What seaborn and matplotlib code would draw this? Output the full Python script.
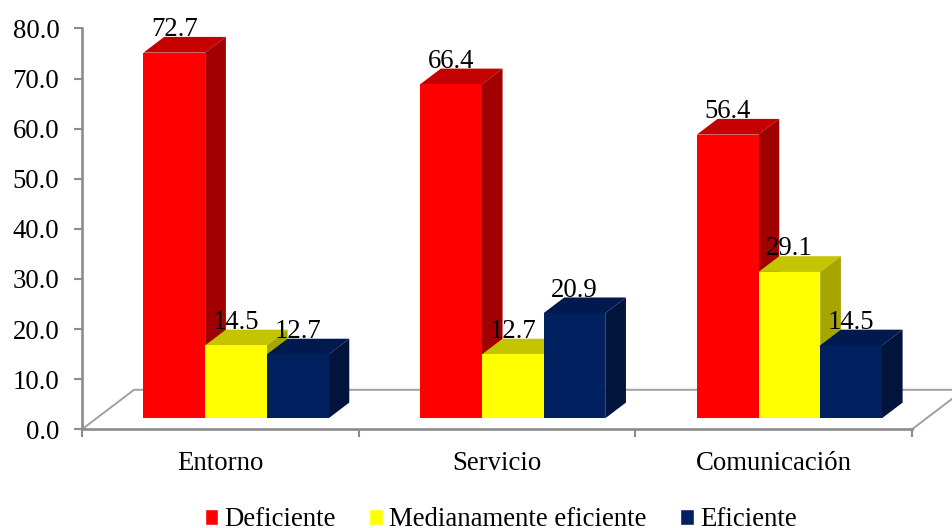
import matplotlib
matplotlib.use('Agg')
import matplotlib.pyplot as plt
from matplotlib.patches import Polygon
from matplotlib.transforms import Affine2D, IdentityTransform
import pandas as pd
import seaborn as sns

categories = ['Entorno', 'Servicio', 'Comunicación']
series_names = ['Deficiente', 'Medianamente eficiente', 'Eficiente']
deficiente = [72.7, 66.4, 56.4]
medianamente = [14.5, 12.7, 29.1]
eficiente = [12.7, 20.9, 14.5]
y_ticks = [0, 10, 20, 30, 40, 50, 60, 70, 80]

front_colors = ['#FF0000', '#FFFF00', '#002060']
top_colors = ['#C40000', '#C4C400', '#001A4F']
side_colors = ['#A00000', '#A6A600', '#00143C']
axis_color = '#8C8C8C'

W, H = 952, 528
DEPTH_X, DEPTH_Y = 20.7, 15.7

sns.set_theme(style='white')
plt.rcParams['font.family'] = ['Liberation Serif', 'DejaVu Serif']
plt.rcParams['text.color'] = 'black'
font_size = 19.3

df = pd.DataFrame({
    'categoria': categories * 3,
    'serie': [series_names[0]] * 3 + [series_names[1]] * 3 + [series_names[2]] * 3,
    'valor': deficiente + medianamente + eficiente,
})

fig = plt.figure(figsize=(W / 100, H / 100), dpi=100)
ax = fig.add_axes([82 / W, (H - 429.3) / H, 830 / W, 400.8 / H])

sns.barplot(data=df, x='categoria', y='valor', hue='serie', order=categories,
            hue_order=series_names, palette=front_colors, saturation=1,
            width=0.669, gap=0, errorbar=None, ax=ax)
ax.set_xlim(-0.5, 2.5)
ax.set_ylim(0, 80)
ax.set_xlabel('')
ax.set_ylabel('')

# ticks on the category borders, labels in the middle
ax.set_xticks([-0.5, 0.5, 1.5, 2.5])
ax.set_xticklabels([])
ax.set_xticks([0, 1, 2], labels=categories, minor=True)
ax.tick_params(axis='x', which='major', bottom=True, length=5.5, width=1.5, color=axis_color)
ax.tick_params(axis='x', which='minor', bottom=True, length=0, pad=15.5, labelsize=font_size, labelcolor='black')
ax.set_yticks(y_ticks)
ax.set_yticklabels([f'{t:.1f}' for t in y_ticks])
ax.tick_params(axis='y', length=5.8, width=1.5, color=axis_color, pad=10.5,
               labelsize=font_size, labelcolor='black', left=True)

sns.despine(ax=ax)
for side in ['left', 'bottom']:
    ax.spines[side].set_color(axis_color)
    ax.spines[side].set_linewidth(1.9)

# chart floor
back_x = 52 / 830
back_y = 39.5 / 400.8
ax.plot([0, back_x, 1 + back_x], [0, back_y, back_y], color='#A0A0A0', lw=1.4,
        transform=ax.transAxes, clip_on=False, zorder=1)
ax.plot([1, 1 + back_x], [0, back_y], color='#A0A0A0', lw=1.4,
        transform=ax.transAxes, clip_on=False, zorder=1)

# fake 3D: front faces shifted into the floor, top and side faces added
bar_tf = Affine2D().scale(1, 1.004) + ax.transData + Affine2D().translate(15.7, 11)
for i, container in enumerate(ax.containers):
    for bar, value in zip(container, container.datavalues):
        bar.set_transform(bar_tf)
        bar.set_zorder(4 + i * 2)
        bar.set_clip_on(False)
        bar.set_edgecolor('none')
        bar.set_linewidth(0)
        x0 = bar.get_x()
        x1 = x0 + bar.get_width()
        (px0, py0), (px1, py1) = bar_tf.transform([(x0, 0), (x1, value)])
        top = [(px0, py1), (px1, py1), (px1 + DEPTH_X, py1 + DEPTH_Y), (px0 + DEPTH_X, py1 + DEPTH_Y)]
        side = [(px1, py0), (px1, py1), (px1 + DEPTH_X, py1 + DEPTH_Y), (px1 + DEPTH_X, py0 + DEPTH_Y)]
        ax.add_patch(Polygon(top, closed=True, facecolor=top_colors[i], edgecolor='none',
                             transform=IdentityTransform(), clip_on=False, zorder=3 + i * 2))
        ax.add_patch(Polygon(side, closed=True, facecolor=side_colors[i], edgecolor='none',
                             transform=IdentityTransform(), clip_on=False, zorder=3 + i * 2))
        ax.annotate(f'{value:.1f}', xy=((x0 + x1) / 2, value), xycoords=bar_tf,
                    xytext=(0, 12), textcoords='offset points', ha='center', va='baseline',
                    fontsize=font_size, color='black', zorder=20, annotation_clip=False)

sns.move_legend(ax, 'center', bbox_to_anchor=(500.5 / W, (H - 520) / H),
                bbox_transform=fig.transFigure, ncol=3, frameon=False, title=None,
                fontsize=font_size, handlelength=0.52, handleheight=0.52,
                handletextpad=0.22, columnspacing=1.25, borderpad=0, borderaxespad=0)

plt.savefig('out.png', dpi=100)
